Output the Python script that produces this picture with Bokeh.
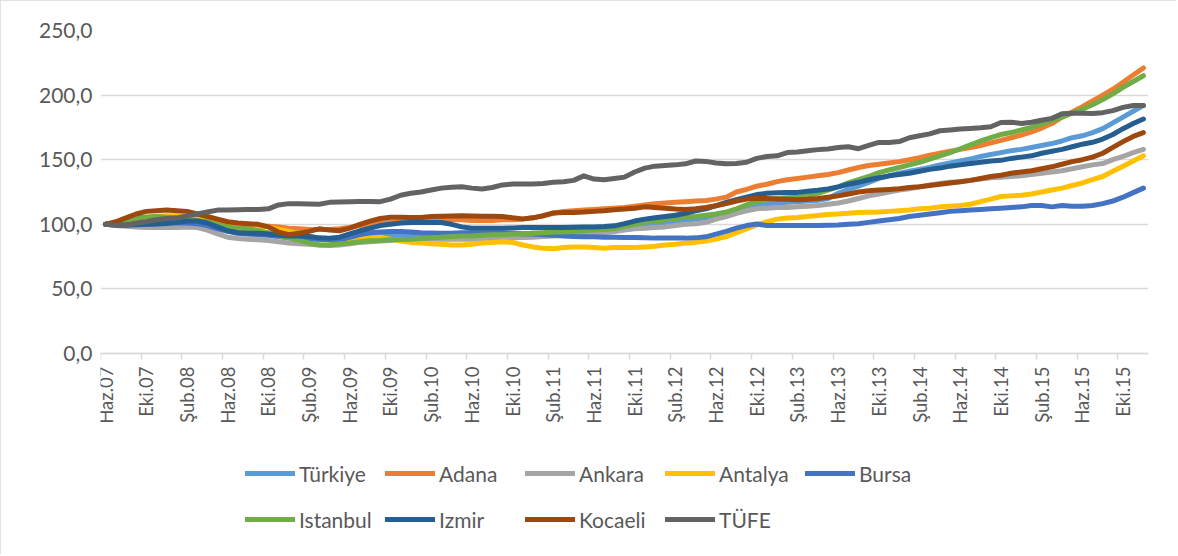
import math
from bokeh.plotting import figure
from bokeh.models import Range1d, FixedTicker, Legend, LegendItem
from bokeh.embed import file_html
from bokeh.resources import INLINE

# ---------------- data ----------------
month_names = ["Oca", "Şub", "Mar", "Nis", "May", "Haz", "Tem", "Ağu", "Eyl", "Eki", "Kas", "Ara"]
categories = []
y, m = 2007, 5
for _ in range(103):
    categories.append(f"{month_names[m]}.{str(y)[2:]}")
    m += 1
    if m == 12:
        m = 0
        y += 1

turkiye = [100, 100, 100.5, 101, 101.5, 102, 102.5, 102.5, 102.5, 102,
           100.5, 98, 96, 95, 94.5, 94, 93, 92, 91, 90,
           89, 88.5, 88, 88, 89, 90, 91, 91.5, 92, 92,
           92, 92, 92, 92, 92, 92, 92, 92, 92.5, 92.5,
           92.5, 92.5, 93, 93, 93.5, 94, 94.5, 95, 95.5, 96,
           96.5, 97.5, 98.5, 99.5, 100.5, 101, 102, 103, 104, 105,
           106.5, 108.5, 111, 113, 114.5, 115.5, 116.5, 117, 117.5, 118,
           118.5, 120, 124, 127, 129.5, 132.5, 135.5, 137.5, 139.5, 141,
           142.5, 144, 146, 147.5, 149, 150.5, 152.5, 154, 155.5, 157,
           158, 159.5, 161, 162.5, 164.5, 167, 168.5, 171, 174, 178.5,
           183, 187.5, 192]

adana = [100, 101, 103, 104.5, 105.5, 106, 106.5, 106.5, 106, 105,
         104, 103, 101.5, 100, 99, 98.5, 98.5, 98, 97, 96.5,
         96, 96, 96, 96.5, 97.5, 99, 100, 101, 101.5, 102,
         102.5, 103, 103, 103, 103.5, 103.5, 103, 103, 103, 103.5,
         103.5, 104, 105, 106.5, 108.5, 110, 110.5, 111, 111.5, 112,
         112.5, 113, 114, 115, 116, 116.5, 117, 117.5, 118, 118.5,
         119.5, 121, 125, 127, 129.5, 131, 133, 134.5, 135.5, 136.5,
         137.5, 138.5, 140, 142, 144, 145.5, 146.5, 147.5, 148.5, 150,
         151.5, 153.5, 155, 156.5, 158, 159.5, 161, 163, 165, 167,
         169, 171.5, 174.5, 178, 183, 187, 191, 195.5, 200, 204.5,
         210, 215.5, 221]

ankara = [100, 99, 98.5, 98, 97.5, 97.5, 97.5, 97.5, 98, 97.5,
          95.5, 92.5, 90, 89, 88.5, 88, 87.5, 86.5, 85.5, 85,
          84.5, 84, 83.5, 84, 85, 86, 86.5, 87, 87.5, 88,
          88.3, 88.5, 88.5, 88.5, 88.5, 88.5, 88.5, 88.7, 89, 89.2,
          89.5, 89.8, 90, 90.5, 91, 91.5, 92, 92.5, 93, 93.5,
          94.5, 95.5, 96.5, 97, 97.5, 98, 99, 100, 100.5, 101.5,
          104, 106, 108.5, 110.5, 112, 112.5, 113, 113, 113.5, 114,
          114.5, 115.5, 116.5, 118, 120, 122, 123.5, 125, 126.5, 127.5,
          129, 130.5, 131.5, 132.5, 133, 134, 135, 136, 136.5, 137,
          137.5, 138.5, 139.5, 140.5, 141.5, 143, 144.5, 146, 147, 150,
          152.5, 155.5, 158]

antalya = [100, 101, 103, 104.5, 105, 105.5, 106, 106, 105.5, 105,
           104, 102.5, 101, 100, 99.5, 99, 98, 96, 94.5, 93,
           91, 89, 88, 88, 88.5, 89, 89.5, 90, 88.5, 87,
           86, 85.5, 85, 84.5, 84, 84, 84.5, 85.5, 86, 86.5,
           86, 84, 82.5, 81.5, 81, 82, 82.5, 82.5, 82, 81.5,
           82, 82, 82, 82.5, 83, 84, 84.5, 85.5, 86, 87,
           88.5, 90.5, 93.5, 96.5, 99.5, 102, 104, 104.8, 105.3, 106,
           106.8, 107.5, 108, 108.5, 109.2, 109.3, 109.5, 110, 110.5, 111,
           112, 112.5, 113.5, 114, 114.5, 115.5, 117.5, 119.5, 121.5, 122,
           122.5, 123.5, 125, 126.5, 128, 130, 132, 134.5, 137, 141,
           145, 149, 153]

bursa = [100, 99.5, 99.5, 99.5, 100, 100.5, 101, 101, 101, 100.5,
         99, 96.5, 94.5, 93, 92.5, 92, 91.5, 90.5, 89.5, 89,
         89, 88.5, 88, 87.5, 90, 92, 93.5, 94, 94.5, 94.5,
         94, 93.5, 93.3, 93, 93, 93.5, 93.5, 93.5, 93.5, 93.5,
         93, 92.5, 92.5, 92, 91.5, 91, 90.5, 90.3, 90.3, 90,
         90, 89.8, 89.8, 89.5, 89.3, 89.3, 89.3, 89.3, 89.5, 90.3,
         92.4, 94.5, 97, 99, 100.2, 99, 99, 99, 99, 99,
         99, 99.3, 99.5, 100, 100.5, 101.5, 102.5, 103.5, 104.5, 106,
         107, 108, 109, 110, 110.5, 111, 111.5, 112, 112.5, 113,
         113.5, 114.5, 114.5, 113.5, 114.5, 114, 114, 114.5, 116, 118,
         121, 124.5, 128]

istanbul = [100, 101.5, 103, 105, 105.5, 106, 105.5, 104.5, 104, 103,
            102, 100, 98, 97, 96.5, 95, 93.5, 91, 89.5, 87.5,
            85.5, 84, 84, 85, 85.5, 86.5, 87.2, 87.5, 88, 88.3,
            88.5, 89, 89.5, 90, 90.5, 91, 91, 91.5, 92, 92,
            92.5, 92.5, 93, 93.5, 94, 94, 94.5, 95, 95.5, 96,
            96.5, 98.5, 100, 101.5, 102.5, 103.5, 104.5, 105.5, 106, 107,
            108, 109.5, 112, 115, 117.5, 119, 120, 120.5, 121, 122.5,
            124, 126.5, 129, 132, 134.5, 137, 140, 142, 144, 146,
            148, 150.5, 153, 155.5, 158.5, 161.5, 164.5, 167, 169.5, 171,
            173, 175, 177.5, 180.5, 183, 186, 189, 192.5, 196.5, 201,
            206, 210.5, 215]

izmir = [100, 99.5, 99.5, 100, 100, 100.3, 100.6, 101.5, 102.5, 102.5,
         101, 98, 95, 93.5, 93, 93, 92.5, 91.5, 91, 91,
         90.5, 89.5, 89.3, 90, 92.5, 95, 97, 99, 100, 101,
         101.4, 101.4, 101.4, 101.4, 100, 98, 97, 97, 97, 97,
         97.2, 97.5, 97.5, 97.5, 97.5, 97.5, 97.7, 98, 98, 98.3,
         98.8, 100.5, 102.5, 104, 105, 106, 107, 108.5, 110.5, 112,
         114.5, 117, 119, 121, 123, 124, 124.5, 124.7, 124.7, 125.5,
         126.3, 127.3, 129, 131, 132.5, 134.5, 136, 137.5, 138.5, 139.5,
         141, 142.5, 143.5, 145, 146, 147, 148, 149, 149.5, 151,
         152, 153, 155, 156.5, 158, 160, 162, 163.5, 166, 169.5,
         174, 178, 181.5]

kocaeli = [100, 102, 105, 108, 110, 110.5, 111, 110.5, 110, 108,
           106, 104, 102, 101, 100.5, 100, 98, 94, 92, 93,
           94.5, 96.5, 95.5, 95, 97, 100, 102.5, 104.5, 105.5, 105.5,
           105.3, 105.3, 106, 106.3, 106.5, 106.6, 106.5, 106.3, 106.3, 106,
           105, 104.2, 105, 106.6, 108.8, 109.2, 109.2, 109.5, 110, 110.5,
           111.3, 111.8, 112.5, 113.5, 113, 112.5, 111.8, 111.5, 112, 113,
           114.3, 116, 118, 119.5, 120.2, 120, 119.5, 119.3, 119, 119.3,
           120, 121, 122, 123.5, 125, 126, 126.5, 127, 127.5, 128.5,
           129, 130, 131, 132, 133, 134, 135.5, 137, 138, 139.5,
           140.5, 141.5, 143, 144.5, 146.5, 148.5, 150, 152, 155, 159.5,
           164, 168, 171]

tufe = [100, 99.5, 99.3, 101, 102, 103.5, 104.5, 105, 106.5, 108,
        109.5, 111, 111, 111.3, 111.5, 111.5, 112, 115, 116, 116,
        115.8, 115.5, 117, 117.3, 117.5, 117.7, 117.7, 117.5, 119.5, 122.5,
        124, 125, 126.5, 128, 128.7, 129, 128, 127.3, 128.5, 130.5,
        131.2, 131.2, 131.2, 131.5, 132.5, 133, 134, 137.5, 135, 134.5,
        135.5, 136.5, 140.5, 143.5, 145, 145.5, 146, 146.8, 149, 148.7,
        147.5, 146.8, 147, 148, 151, 152.5, 153, 155.5, 156, 157,
        157.8, 158.3, 159.5, 160, 158.5, 161, 163.4, 163.4, 164, 167,
        168.5, 170, 172.4, 173, 173.7, 174.2, 174.7, 175.5, 178.8, 179,
        178, 179, 180.5, 182, 185.5, 186, 186, 185.8, 186.4, 188,
        190.5, 192, 192]

series_names = ["Türkiye", "Adana", "Ankara", "Antalya", "Bursa",
                "Istanbul", "Izmir", "Kocaeli", "TÜFE"]
series_values = [turkiye, adana, ankara, antalya, bursa,
                 istanbul, izmir, kocaeli, tufe]
series_colors = ["#5B9BD5", "#ED7D31", "#A5A5A5", "#FFC000", "#4472C4",
                 "#70AD47", "#255E91", "#9E480E", "#636363"]

y_ticks = [0, 50, 100, 150, 200, 250]
y_tick_labels = ["0,0", "50,0", "100,0", "150,0", "200,0", "250,0"]

# ---------------- figure ----------------
FONT = "Lato"
TXT = "#595959"
GRID = "#D9D9D9"

n = len(categories)
xs = list(range(n))

W, H = 1176, 554
BL, BR, BT, BB = 100, 28, 30, 10
frame_h = H - BT - BB
value_h = 323.0  # pixels spanned by 0..250
y_start = 250 - 250 * frame_h / value_h

p = figure(width=W, height=H, output_backend="svg", toolbar_location=None,
           x_range=Range1d(-0.5, n - 0.5), y_range=Range1d(y_start, 250),
           min_border_left=BL, min_border_right=BR, min_border_top=BT,
           min_border_bottom=BB)
p.outline_line_color = None
p.background_fill_color = "white"
p.border_fill_color = "white"
p.styles = {"outline": "1.5px solid #D9D9D9", "outline-offset": "-1.5px"}

# y axis
p.yaxis.ticker = FixedTicker(ticks=y_ticks)
p.yaxis.major_label_overrides = {t: l for t, l in zip(y_ticks, y_tick_labels)}
p.yaxis.axis_line_color = None
p.yaxis.major_tick_line_color = None
p.yaxis.major_tick_out = 0
p.yaxis.major_tick_in = 0
p.yaxis.minor_tick_line_color = None
p.yaxis.major_label_text_font = FONT
p.yaxis.major_label_text_font_size = "21px"
p.yaxis.major_label_text_color = TXT
p.yaxis.major_label_standoff = 8

p.ygrid.ticker = FixedTicker(ticks=y_ticks)
p.ygrid.grid_line_color = GRID
p.ygrid.grid_line_width = 1.5
p.xgrid.visible = False

# x axis, drawn at value 0
label_idx = list(range(0, n, 4))
p.xaxis.fixed_location = 0
p.xaxis.ticker = FixedTicker(ticks=label_idx, minor_ticks=[i - 0.5 for i in label_idx])
p.xaxis.major_label_overrides = {i: categories[i] for i in label_idx}
p.xaxis.major_label_orientation = math.pi / 2
p.xaxis.axis_line_color = GRID
p.xaxis.axis_line_width = 1.5
p.xaxis.major_tick_line_color = None
p.xaxis.major_tick_out = 0
p.xaxis.major_tick_in = 0
p.xaxis.minor_tick_line_color = GRID
p.xaxis.minor_tick_line_width = 1.5
p.xaxis.minor_tick_out = 6
p.xaxis.minor_tick_in = 0
p.xaxis.major_label_text_font = FONT
p.xaxis.major_label_text_font_size = "18.5px"
p.xaxis.major_label_text_color = TXT
p.xaxis.major_label_standoff = 7

renderers = []
for name, vals, col in zip(series_names, series_values, series_colors):
    r = p.line(xs, vals, line_color=col, line_width=5,
               line_join="round", line_cap="round")
    renderers.append(r)

# legend: two rows of equal-width cells, placed under the axis labels
ITEM_H = 28
def make_legend(idx, vy):
    return Legend(items=[LegendItem(label=series_names[i], renderers=[renderers[i]]) for i in idx],
                  location=(145, vy), orientation="horizontal",
                  border_line_color=None, background_fill_alpha=0,
                  padding=0, margin=0, spacing=2,
                  glyph_width=50, glyph_height=ITEM_H, label_height=ITEM_H, label_width=84,
                  label_standoff=4, label_text_font=FONT,
                  label_text_font_size="21px", label_text_color=TXT)

row1_center, row2_center = 473, 519
frame_bottom = H - BB
p.add_layout(make_legend([0, 1, 2, 3, 4], frame_bottom - row1_center - ITEM_H // 2), "center")
p.add_layout(make_legend([5, 6, 7, 8], frame_bottom - row2_center - ITEM_H // 2), "center")

open("out.html", "w").write(file_html(p, INLINE))
